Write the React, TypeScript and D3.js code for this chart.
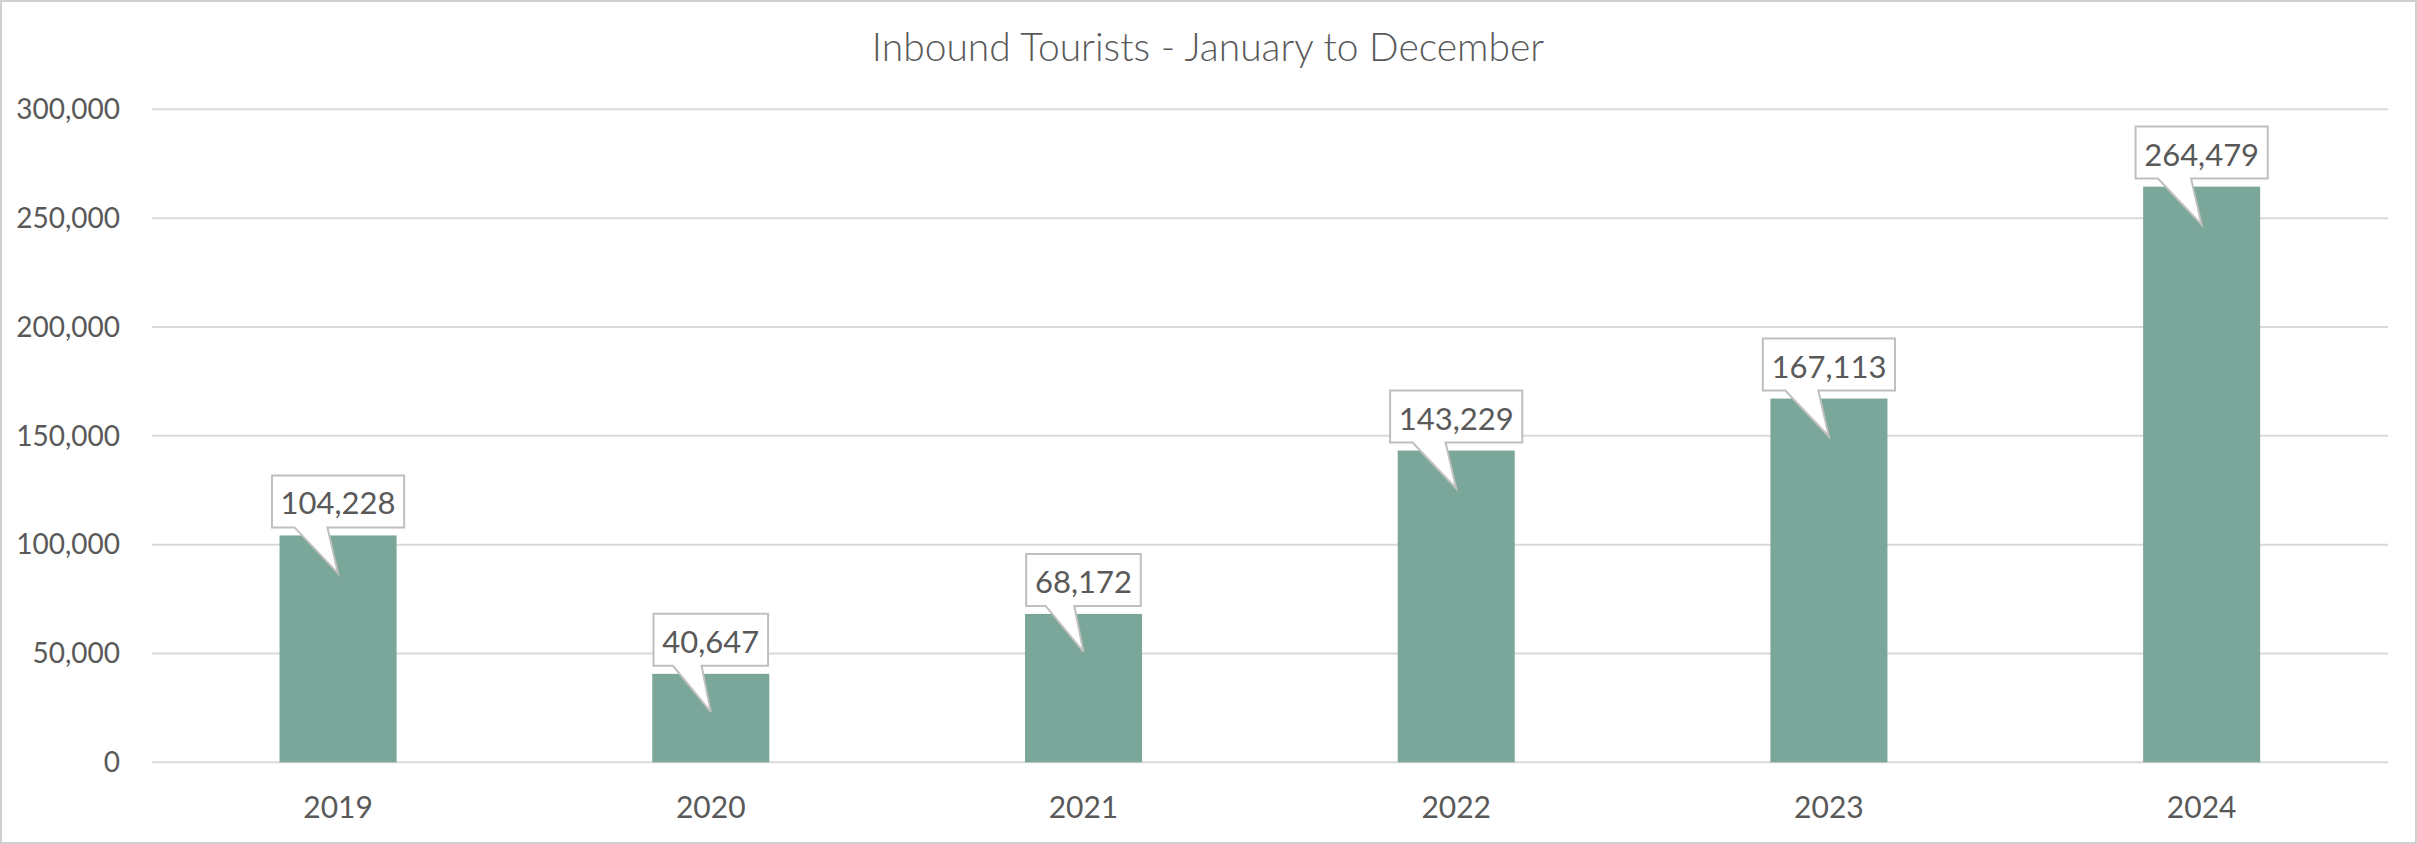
import React from "react";
import * as d3 from "d3";

const years: string[] = ["2019", "2020", "2021", "2022", "2023", "2024"];
const tourists: number[] = [104228, 40647, 68172, 143229, 167113, 264479];
const yTicks: number[] = [0, 50000, 100000, 150000, 200000, 250000, 300000];
const title = "Inbound Tourists - January to December";

const W = 2417;
const H = 844;
const FONT = "Lato, 'Open Sans', sans-serif";
const TEXT = "#595959";
const GRID = "#d9d9d9";
const BAR = "#7ba79b";

export default function App() {
  const x = d3
    .scaleBand<string>()
    .domain(years)
    .range([151.7, 2388])
    .paddingInner(0.686)
    .paddingOuter(0.343);
  const y = d3.scaleLinear().domain([0, 300000]).range([762.3, 109.3]);
  const fmt = d3.format(",");

  return (
    <svg
      width={W}
      height={H}
      style={{ position: "absolute", left: 0, top: 0, background: "#fff" }}
      fontFamily={FONT}
    >
      <rect x={1} y={1} width={W - 2} height={H - 2} fill="#fff" stroke="#d0d0d0" strokeWidth={2} />
      <text x={1208} y={61} textAnchor="middle" fontSize={39} fontWeight={300} fill={TEXT}>
        {title}
      </text>
      {yTicks.map((t) => (
        <g key={t}>
          <line x1={151.7} x2={2388} y1={y(t)} y2={y(t)} stroke={GRID} strokeWidth={2} />
          <text x={120} y={y(t) + 9.8} textAnchor="end" fontSize={28} fill={TEXT}>
            {fmt(t)}
          </text>
        </g>
      ))}
      {years.map((yr, i) => {
        const bx = x(yr)!;
        const bw = x.bandwidth();
        const cx = bx + bw / 2;
        const top = y(tourists[i]);
        return (
          <g key={yr}>
            <rect x={bx} y={top} width={bw} height={y(0) - top} fill={BAR} />
            <text x={cx} y={817.7} textAnchor="middle" fontSize={30} fill={TEXT}>
              {yr}
            </text>
          </g>
        );
      })}
      {years.map((yr, i) => {
        const cx = x(yr)! + x.bandwidth() / 2;
        const top = y(tourists[i]);
        const label = fmt(tourists[i]);
        const bw = label.length * 17.6 + 9;
        const bh = 52;
        const left = cx - bw / 2;
        const right = cx + bw / 2;
        const bottom = top - 8;
        const boxTop = bottom - bh;
        const b1 = left + bw * 0.17;
        const b2 = left + bw * 0.42;
        const tipY = top + 38;
        const d = `M${left},${boxTop} L${right},${boxTop} L${right},${bottom} L${b2},${bottom} L${cx},${tipY} L${b1},${bottom} L${left},${bottom} Z`;
        return (
          <g key={"lbl" + yr}>
            <path d={d} fill="#fff" stroke="#bfbfbf" strokeWidth={2} strokeLinejoin="miter" />
            <text x={cx} y={bottom - 13} textAnchor="middle" fontSize={31} fill={TEXT}>
              {label}
            </text>
          </g>
        );
      })}
    </svg>
  );
}
